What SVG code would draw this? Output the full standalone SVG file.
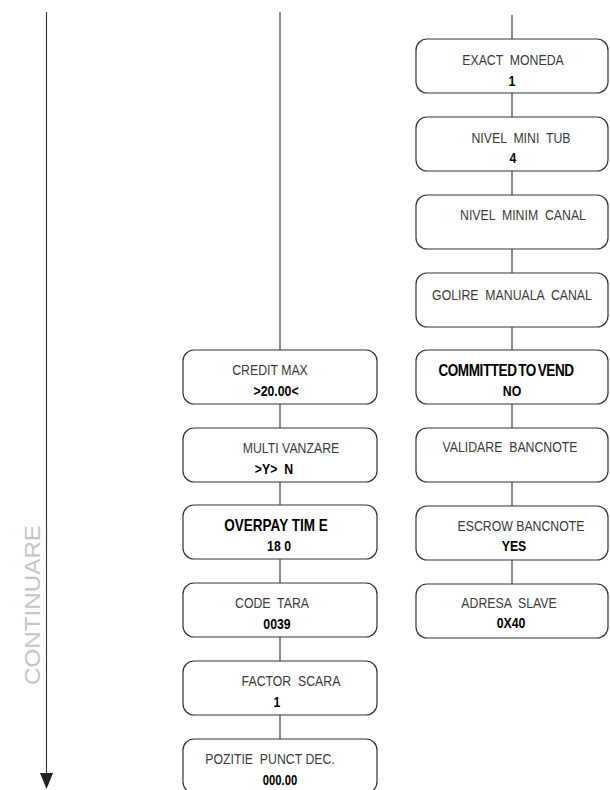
<svg xmlns="http://www.w3.org/2000/svg" width="610" height="790" viewBox="0 0 610 790">
<style>
.box{fill:#fff;stroke:#333;stroke-width:1.2}
.ln{stroke:#333;stroke-width:1.1;fill:none}
text{font-family:"Liberation Sans",Arial,sans-serif;font-size:15px;text-anchor:middle}
.r{fill:#3a3a3a}
.b{fill:#000;font-weight:bold}
.t{fill:#000;font-weight:bold;font-size:16.5px}
.cont{font-family:"Liberation Sans",Arial,sans-serif;font-size:22px;fill:#c6c6c6;text-anchor:middle}
</style>
<g id="connectors">
<line class="ln" x1="46.5" y1="12" x2="46.5" y2="775"/>
<polygon points="40,773 53,773 46.5,789" fill="#222"/>
<line class="ln" x1="280" y1="12" x2="280" y2="739"/>
<line class="ln" x1="512" y1="15" x2="512" y2="584"/>
</g>
<text id="continuare" class="cont" transform="translate(40,605) rotate(-90)" textLength="160" lengthAdjust="spacingAndGlyphs">CONTINUARE</text>
<g id="credit-max"><rect class="box" x="183" y="350" width="194" height="54" rx="11"/><text class="r" transform="translate(270 375) scale(0.82 1)">CREDIT MAX</text><text class="b" transform="translate(276 396) scale(0.82 1)">&gt;20.00&lt;</text></g>
<g id="multi-vanzare"><rect class="box" x="183" y="428" width="194" height="54" rx="11"/><text class="r" transform="translate(291 453) scale(0.82 1)">MULTI VANZARE</text><text class="b" transform="translate(274 474) scale(0.82 1)" xml:space="preserve">&gt;Y&gt;  N</text></g>
<g id="overpay-time"><rect class="box" x="183" y="505" width="194" height="54" rx="11"/><text class="t" transform="translate(276 530.5) scale(0.82 1)">OVERPAY TIM E</text><text class="b" transform="translate(279 551) scale(0.82 1)">18 0</text></g>
<g id="code-tara"><rect class="box" x="183" y="583" width="194" height="54" rx="11"/><text class="r" transform="translate(272 608) scale(0.82 1)" xml:space="preserve">CODE  TARA</text><text class="b" transform="translate(277 629) scale(0.82 1)">0039</text></g>
<g id="factor-scara"><rect class="box" x="183" y="661" width="194" height="54" rx="11"/><text class="r" transform="translate(291 686) scale(0.82 1)" xml:space="preserve">FACTOR  SCARA</text><text class="b" transform="translate(277 707) scale(0.82 1)">1</text></g>
<g id="pozitie-punct"><rect class="box" x="183" y="739" width="194" height="54" rx="11"/><text class="r" transform="translate(270 764) scale(0.82 1)" xml:space="preserve">POZITIE  PUNCT DEC.</text><text class="b" transform="translate(280 785) scale(0.75 1)">000.00</text></g>
<g id="exact-moneda"><rect class="box" x="416" y="39" width="192" height="54" rx="11"/><text class="r" transform="translate(513 65) scale(0.82 1)" xml:space="preserve">EXACT  MONEDA</text><text class="b" transform="translate(512 86) scale(0.82 1)">1</text></g>
<g id="nivel-mini-tub"><rect class="box" x="416" y="117" width="192" height="54" rx="11"/><text class="r" transform="translate(521 143) scale(0.82 1)" xml:space="preserve">NIVEL  MINI  TUB</text><text class="b" transform="translate(513 163) scale(0.82 1)">4</text></g>
<g id="nivel-minim-canal"><rect class="box" x="416" y="195" width="192" height="54" rx="11"/><text class="r" transform="translate(523 220) scale(0.82 1)" xml:space="preserve">NIVEL  MINIM  CANAL</text></g>
<g id="golire-manuala-canal"><rect class="box" x="416" y="273" width="192" height="54" rx="11"/><text class="r" transform="translate(512 300) scale(0.82 1)" xml:space="preserve">GOLIRE  MANUALA  CANAL</text></g>
<g id="committed-to-vend"><rect class="box" x="416" y="350" width="192" height="54" rx="11"/><text class="t" transform="translate(506 375.5) scale(0.82 1)" letter-spacing="-0.5" word-spacing="-2">COMMITTED TO VEND</text><text class="b" transform="translate(512 395.5) scale(0.82 1)">NO</text></g>
<g id="validare-bancnote"><rect class="box" x="416" y="428" width="192" height="54" rx="11"/><text class="r" transform="translate(510 452) scale(0.82 1)" xml:space="preserve">VALIDARE  BANCNOTE</text></g>
<g id="escrow-bancnote"><rect class="box" x="416" y="506" width="192" height="54" rx="11"/><text class="r" transform="translate(521 531) scale(0.82 1)">ESCROW BANCNOTE</text><text class="b" transform="translate(514 551) scale(0.82 1)">YES</text></g>
<g id="adresa-slave"><rect class="box" x="416" y="584" width="192" height="54" rx="11"/><text class="r" transform="translate(509 608) scale(0.82 1)" xml:space="preserve">ADRESA  SLAVE</text><text class="b" transform="translate(511 628) scale(0.82 1)">0X40</text></g>
</svg>
